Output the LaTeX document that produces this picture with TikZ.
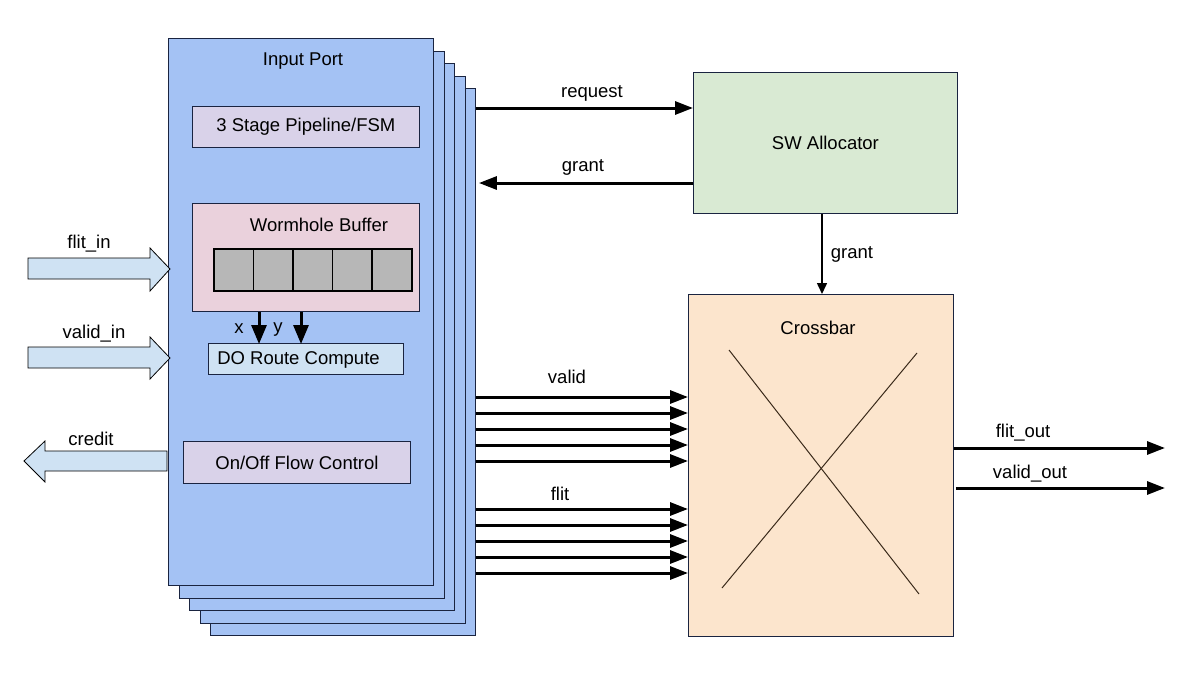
\documentclass[tikz,border=0pt]{standalone}
\usepackage{fontspec}
\setmainfont{Liberation Sans}
\usetikzlibrary{arrows.meta}
\definecolor{portblue}{HTML}{A4C2F4}
\definecolor{portline}{HTML}{1A2440}
\definecolor{pipefill}{HTML}{D9D2E9}
\definecolor{wormfill}{HTML}{EAD1DC}
\definecolor{cellfill}{HTML}{B7B7B7}
\definecolor{routefill}{HTML}{CFE2F3}
\definecolor{swfill}{HTML}{D9EAD3}
\definecolor{xbfill}{HTML}{FCE5CD}
\definecolor{xline}{HTML}{3A2A1A}
\begin{document}
\begin{tikzpicture}[x=1pt,y=-1pt,
  font=\fontsize{18.5}{22}\selectfont,
  port/.style={draw=portline, fill=portblue, line width=0.9pt, minimum width=265pt, minimum height=547pt, anchor=north west, inner sep=0pt},
  blk/.style={draw=portline, line width=0.9pt, anchor=north west, inner sep=0pt},
  cell/.style={draw=black, fill=cellfill, line width=1.6pt, anchor=north west, minimum width=39.6pt, minimum height=42pt, inner sep=0pt},
  lbl/.style={inner sep=0pt, text=black},
  sig/.style={line width=3pt, -{Triangle[length=18pt,width=13pt]}},
  xysig/.style={line width=3pt, -{Triangle[length=19pt,width=15pt]}},
  thinsig/.style={line width=1.5pt, -{Triangle[length=11pt,width=10pt]}},
  fatarrow/.style={draw=black, fill=routefill, line width=0.8pt, line join=miter},
  crossline/.style={draw=xline, line width=1pt}
]
\useasboundingbox (0,0) rectangle (1203,691);

% stacked input ports (back to front)
\foreach \k/\nm in {4/p5,3/p4,2/p3,1/p2,0/p1}{
  \node[port] (\nm) at ({168+10.5*\k},{38+12.5*\k}) {};
}
\node[lbl] (iptitle) at (303,61) {Input Port};

% inner blocks
\node[blk, fill=pipefill, minimum width=227pt, minimum height=41pt] (pipe) at (192,106) {3 Stage Pipeline/FSM};
\node[blk, fill=wormfill, minimum width=227pt, minimum height=108pt] (wb) at (192,203) {};
\node[lbl] (wbtitle) at (319,225) {Wormhole Buffer};
\foreach \i in {0,...,4}{
  \node[cell] (c\i) at ({213+39.6*\i},248) {};
}
\node[blk, fill=routefill, minimum width=195pt, minimum height=31pt] (rc) at (208,343) {};
\node[lbl] (rctext) at (298.5,359.5) {DO Route Compute};
\node[blk, fill=pipefill, minimum width=227pt, minimum height=42pt] (fc) at (183,441) {On/Off Flow Control};

% x / y arrows
\coordinate (xx) at (259,0);
\coordinate (yy) at (301,0);
\draw[xysig] (wb.south -| xx) -- ([yshift=-1pt]rc.north -| xx);
\draw[xysig] (wb.south -| yy) -- ([yshift=-1pt]rc.north -| yy);
\node[lbl] (xlbl) at (239,329) {x};
\node[lbl] (ylbl) at (278,330) {y};

% fat input/output arrows
\draw[fatarrow] (28,258) -- (150,258) -- (150,248) -- (170,269) -- (150,291) -- (150,279) -- (28,279) -- cycle;
\node[lbl] (flitin) at (89,244) {flit\_in};
\draw[fatarrow] (28,347) -- (150,347) -- (150,337) -- (170,358) -- (150,379) -- (150,368) -- (28,368) -- cycle;
\node[lbl] (validin) at (94,334) {valid\_in};
\draw[fatarrow] (167,451) -- (45,451) -- (45,441) -- (24,461) -- (45,482) -- (45,471) -- (167,471) -- cycle;
\node[lbl] (credit) at (91,439) {credit};

% SW allocator and crossbar
\node[blk, fill=swfill, minimum width=264pt, minimum height=141pt] (sw) at (693,72) {SW Allocator};
\node[blk, fill=xbfill, minimum width=265pt, minimum height=342pt] (xb) at (688,294) {};
\node[lbl] (xbtitle) at (818,328) {Crossbar};
\draw[crossline] (729,350) -- (919,594);
\draw[crossline] (917,353) -- (722,588);

% request / grant
\coordinate (ry) at (0,108);
\coordinate (gy) at (0,183);
\draw[sig] (p5.east |- ry) -- (sw.west |- ry);
\node[lbl] (reqlbl) at (592,93) {request};
\draw[sig] (sw.west |- gy) -- ([xshift=3pt]p5.east |- gy);
\node[lbl] (grantlbl) at (583,167) {grant};

\coordinate (gx) at (822,0);
\draw[thinsig] (sw.south -| gx) -- (xb.north -| gx);
\node[lbl] (grant2) at (852,254) {grant};

% valid and flit buses
\foreach \y in {397,413,429,445,461,509,525,541,557,573}{
  \coordinate (bus) at (0,\y);
  \draw[sig] (p5.east |- bus) -- (xb.west |- bus);
}
\node[lbl] (validlbl) at (567,377) {valid};
\node[lbl] (flitlbl) at (560,494) {flit};

% outputs
\coordinate (fo) at (1165,448);
\coordinate (vo) at (1165,488);
\draw[sig] (xb.east |- fo) -- (fo);
\draw[sig] ([xshift=2pt]xb.east |- vo) -- (vo);
\node[lbl] (flitout) at (1023,433) {flit\_out};
\node[lbl] (validout) at (1030,474) {valid\_out};
\end{tikzpicture}
\end{document}
